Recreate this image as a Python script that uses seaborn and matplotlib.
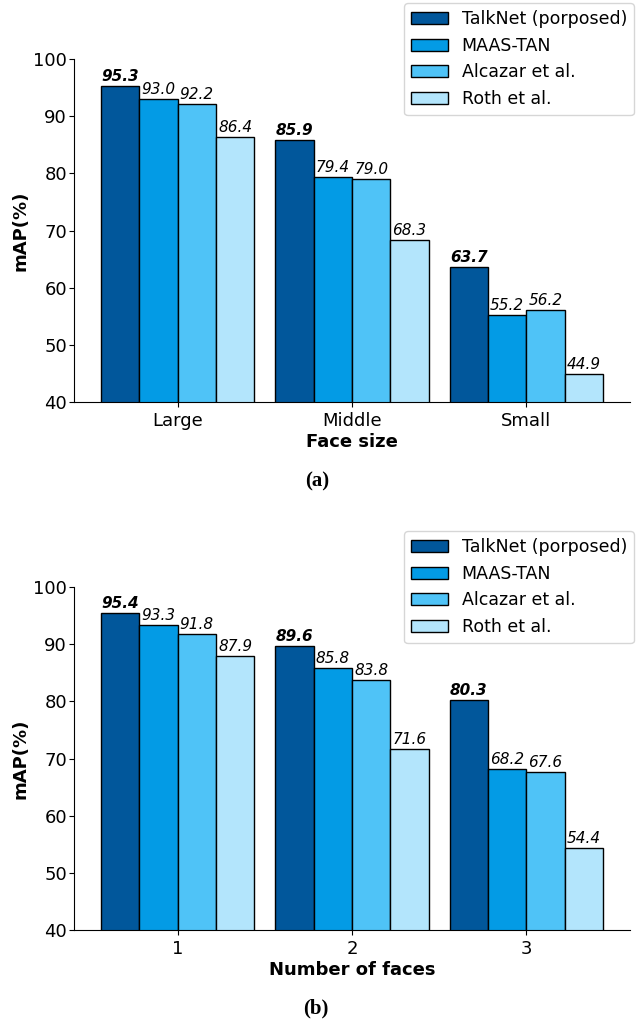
import matplotlib
matplotlib.use('Agg')
import matplotlib.pyplot as plt
import seaborn as sns
import pandas as pd

plt.rcParams['font.family'] = ['DejaVu Sans']

methods = ['TalkNet (porposed)', 'MAAS-TAN', 'Alcazar et al.', 'Roth et al.']
colors = ['#01579B', '#039BE5', '#4FC3F7', '#B3E5FC']

size_groups = ['Large', 'Middle', 'Small']
size_talknet = [95.3, 85.9, 63.7]
size_maas = [93.0, 79.4, 55.2]
size_alcazar = [92.2, 79.0, 56.2]
size_roth = [86.4, 68.3, 44.9]

face_groups = ['1', '2', '3']
face_talknet = [95.4, 89.6, 80.3]
face_maas = [93.3, 85.8, 68.2]
face_alcazar = [91.8, 83.8, 67.6]
face_roth = [87.9, 71.6, 54.4]


def make_df(groups, series):
    rows = []
    for m, vals in zip(methods, series):
        for g, v in zip(groups, vals):
            rows.append({'group': g, 'method': m, 'value': v})
    return pd.DataFrame(rows)


def draw(ax, df, groups, xlabel):
    sns.barplot(data=df, x='group', y='value', hue='method', order=groups,
                hue_order=methods, palette=colors, width=0.88, saturation=1,
                edgecolor='black', linewidth=1, ax=ax)
    for i, cont in enumerate(ax.containers):
        if i == 0:
            ax.bar_label(cont, fmt='%.1f', padding=1.5, fontsize=11,
                         fontstyle='italic', fontweight='bold')
        else:
            ax.bar_label(cont, fmt='%.1f', padding=1.5, fontsize=11,
                         fontstyle='italic')
    ax.set_ylim(40, 100)
    ax.set_xlim(-0.595, 2.595)
    ax.set_yticks(range(40, 101, 10))
    ax.tick_params(labelsize=13)
    ax.tick_params(axis='y', pad=1.5)
    ax.set_xlabel(xlabel, fontsize=13, fontweight='bold', labelpad=2)
    ax.set_ylabel('mAP(%)', fontsize=13, fontweight='bold', labelpad=3)
    ax.spines[['top', 'right']].set_visible(False)
    handles, labels = ax.get_legend_handles_labels()
    ax.legend(handles, labels, loc='upper right', bbox_to_anchor=(1.007, 1.163),
              borderaxespad=0, fontsize=12.5, handlelength=2.1)


fig = plt.figure(figsize=(6.44, 10.19), dpi=100)
ax1 = fig.add_axes([0.1149, 0.6052, 0.8634, 0.3369])
ax2 = fig.add_axes([0.1149, 0.0873, 0.8634, 0.3366])

draw(ax1, make_df(size_groups, [size_talknet, size_maas, size_alcazar, size_roth]),
     size_groups, 'Face size')
draw(ax2, make_df(face_groups, [face_talknet, face_maas, face_alcazar, face_roth]),
     face_groups, 'Number of faces')

fig.text(0.493, 1 - 481 / 1019, '(a)', ha='center', va='center',
         fontsize=15, fontweight='bold', family='Liberation Serif')
fig.text(0.49, 1 - 1008 / 1019, '(b)', ha='center', va='center',
         fontsize=15, fontweight='bold', family='Liberation Serif')

fig.savefig('out.png', dpi=100)
